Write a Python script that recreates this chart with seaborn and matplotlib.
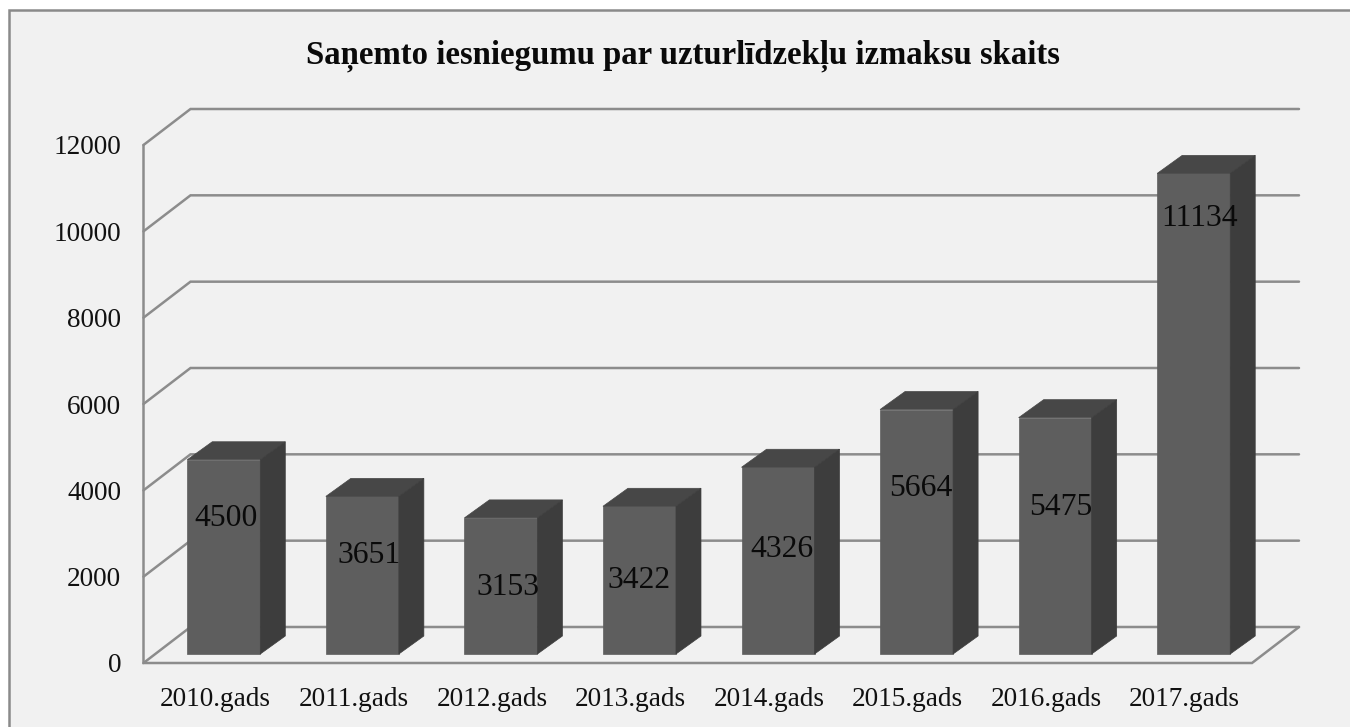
import matplotlib
matplotlib.use('Agg')
import matplotlib.pyplot as plt
import matplotlib.patches as pat
import matplotlib.transforms as mtrans
import pandas as pd
import seaborn as sns

years = ['2010.gads', '2011.gads', '2012.gads', '2013.gads', '2014.gads', '2015.gads', '2016.gads', '2017.gads']
counts = [4500, 3651, 3153, 3422, 4326, 5664, 5475, 11134]
y_ticks = [0, 2000, 4000, 6000, 8000, 10000, 12000]
title = 'Saņemto iesniegumu par uzturlīdzekļu izmaksu skaits'

# hand placed labels in the original, pixels from the top centre of each bar
label_dx = [2, 6.5, 7, 0, 4, 4, 6, 6]
label_drop = [59, 59, 70, 74, 82, 79, 90, 45]

W, H = 1350, 727
BG = '#f1f1f1'
LINE = '#8c8c8c'
FRONT = '#5e5e5e'
SIDE = '#3d3d3d'
TOP = '#474747'
# depth of the fake 3d, in pixels
WALL_DX, WALL_DY = 47, 36
BAR_DX, BAR_DY = 11, 9
DEPTH_DX, DEPTH_DY = 25, 18

sns.set_theme(style='white')
plt.rcParams['font.family'] = ['Liberation Serif', 'DejaVu Serif']

fig = plt.figure(figsize=(W / 100, H / 100), dpi=100, facecolor='white')
# panel frame runs off the right and bottom of the picture
fig.add_artist(pat.Rectangle((8.5 / W, -0.05), 1.1, 1.05 - 9.5 / H, transform=fig.transFigure,
                             facecolor=BG, edgecolor='#8a8a8a', linewidth=1.8, zorder=-1))

ax = fig.add_axes([143.5 / W, 1 - 663 / H, (1252 - 143.5) / W, (663 - 145) / H])
ax.patch.set_alpha(0)

df = pd.DataFrame({'year': years, 'count': counts})
sns.barplot(data=df, x='year', y='count', color=FRONT, saturation=1, width=0.527, ax=ax, zorder=3)
ax.set_xlim(-0.5, len(years) - 0.5)
ax.set_ylim(0, 12000)
ax.set_yticks(y_ticks)
ax.set_xlabel('')
ax.set_ylabel('')
ax.tick_params(axis='y', length=0, pad=16, labelsize=19.6, labelcolor='#111111')
ax.tick_params(axis='x', length=0, pad=17, labelsize=19.6, labelcolor='#111111')
for lab in ax.get_xticklabels():
    lab.set_transform(lab.get_transform() + mtrans.Affine2D().translate(2, 0))
sns.despine(ax=ax, left=True, bottom=True)

fig.canvas.draw()
pix = mtrans.IdentityTransform()
bar_shift = mtrans.offset_copy(ax.transData, fig, x=BAR_DX, y=BAR_DY, units='dots')


def px_line(xs, ys, z=1):
    ax.add_line(plt.Line2D(xs, ys, transform=pix, color=LINE, lw=1.8, zorder=z, clip_on=False,
                           solid_joinstyle='miter'))


# walls and floor
x0, x1 = ax.get_xlim()
for v in y_ticks:
    ax_l = ax.transData.transform((x0, v))
    ax_r = ax.transData.transform((x1, v))
    px_line([ax_l[0], ax_l[0] + WALL_DX, ax_r[0] + WALL_DX],
            [ax_l[1], ax_l[1] + WALL_DY, ax_r[1] + WALL_DY])
b_l = ax.transData.transform((x0, 0))
b_r = ax.transData.transform((x1, 0))
t_l = ax.transData.transform((x0, 12000))
px_line([t_l[0], b_l[0], b_r[0], b_r[0] + WALL_DX],
        [t_l[1], b_l[1], b_r[1], b_r[1] + WALL_DY], z=2)

# move the bars back a bit and give them a top and a side
for i, bar in enumerate(ax.patches[:len(counts)]):
    bar.set_transform(bar_shift)
    bar.set_edgecolor(FRONT)
    bar.set_linewidth(0.5)
    lx, by = bar_shift.transform((bar.get_x(), 0))
    rx, ty = bar_shift.transform((bar.get_x() + bar.get_width(), bar.get_height()))
    top = [(lx, ty), (rx, ty), (rx + DEPTH_DX, ty + DEPTH_DY), (lx + DEPTH_DX, ty + DEPTH_DY)]
    side = [(rx, by), (rx + DEPTH_DX, by + DEPTH_DY), (rx + DEPTH_DX, ty + DEPTH_DY), (rx, ty)]
    ax.add_patch(pat.Polygon(top, closed=True, transform=pix, facecolor=TOP, edgecolor=TOP,
                             lw=0.5, zorder=3, clip_on=False))
    ax.add_patch(pat.Polygon(side, closed=True, transform=pix, facecolor=SIDE, edgecolor=SIDE,
                             lw=0.5, zorder=3, clip_on=False))
    ax.annotate(str(counts[i]), xy=((lx + rx) / 2, ty), xycoords=pix,
                xytext=(label_dx[i], -label_drop[i]), textcoords='offset pixels',
                ha='center', va='center', fontsize=22.8, color='#0a0a0a', zorder=5)

fig.text(683 / W, 1 - 56 / H, title, ha='center', va='center', fontsize=23.6, fontweight='bold',
         color='#0a0a0a')

fig.savefig('out.png', dpi=100, facecolor=fig.get_facecolor())
